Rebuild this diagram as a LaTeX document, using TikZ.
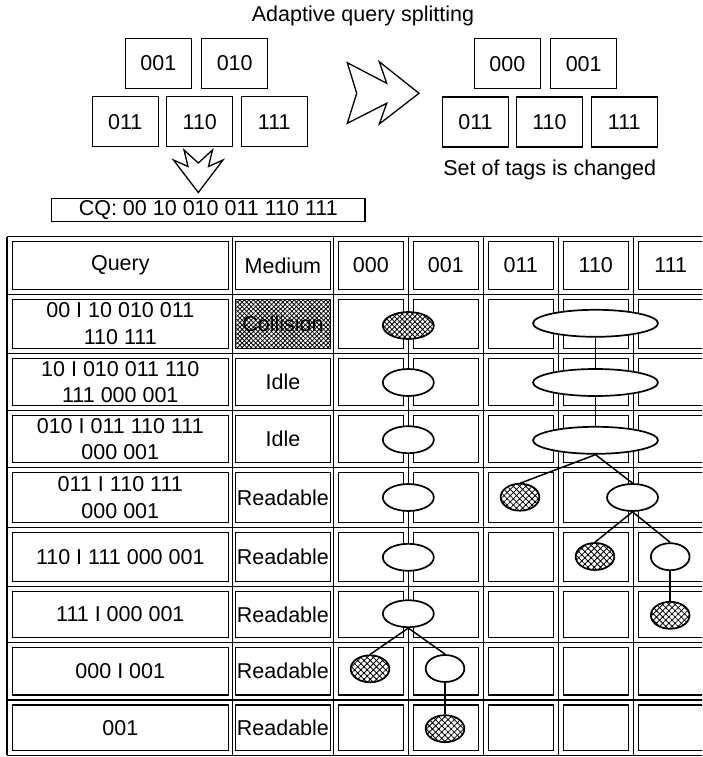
\documentclass[tikz,border=0pt]{standalone}
\usepackage{fontspec}
\setmainfont{Liberation Sans}
\usetikzlibrary{shapes.geometric,patterns.meta}
\begin{document}
\begin{tikzpicture}[x=1pt,y=-1pt,
  font=\fontsize{21.5}{26.5}\selectfont,
  box/.style={draw,line width=1.1pt,minimum width=66pt,minimum height=50pt,inner sep=0pt},
  cell/.style={draw,line width=1.1pt,inner sep=0pt,align=center},
  qcell/.style={cell,minimum width=215.5pt},
  mcell/.style={cell,minimum width=95.5pt},
  tcell/.style={cell,minimum width=65pt},
  gridline/.style={line width=1.1pt},
  oval/.style={ellipse,draw,fill=white,line width=1.7pt,inner sep=0pt,minimum height=27pt},
  sm/.style={oval,minimum width=38.7pt},
  md/.style={oval,minimum width=51pt},
  bg/.style={oval,minimum width=125pt},
  hatch/.style={preaction={fill=white},pattern={Hatch[angle=45,distance=#1,line width=0.8pt]}},
  hatch/.default=4.4pt,
  link/.style={line width=1.5pt},
  bigarrow/.style={draw,line width=1.3pt,line join=miter}
]
\useasboundingbox (0,0) rectangle (702,757);
\clip (0,0) rectangle (702,757);

% ---------- top part ----------
\node (title) at (363,16) {Adaptive query splitting};

\node[box] (a001) at (158.3,63.3) {001};
\node[box] (a010) at (234.7,63.3) {010};
\node[box] (a011) at (125.3,121.7) {011};
\node[box] (a110) at (199.8,121.7) {110};
\node[box] (a111) at (274.3,121.7) {111};

\node[box] (b000) at (507.3,63.8) {000};
\node[box] (b001) at (583.7,63.8) {001};
\node[box] (b011) at (475.5,122) {011};
\node[box] (b110) at (549.5,122) {110};
\node[box] (b111) at (624.3,122) {111};
\node (note) at (549.7,170) {Set of tags is changed};

\node[draw,line width=1.1pt,minimum width=313.3pt,minimum height=23.4pt,inner sep=0pt] (cq) at (208.3,210) {CQ: 00 10 010 011 110 111};

\draw[bigarrow] (347.3,62.7) -- (386.7,83.3) -- (379.3,61.7) -- (419,93.3) -- (379.3,124) -- (386.7,103.3) -- (347.3,123.3) -- (356.7,93.3) -- cycle;
\draw[bigarrow] (184,150) -- (188,166.5) -- (173.5,160) -- (198.3,192.5) -- (223,160) -- (208.5,166.5) -- (212.5,150) -- (198.3,163) -- cycle;

% ---------- table grid ----------
\foreach \x in {7,232.3,333.3,408.3,483.3,558.3,633.3,708.3}
  \draw[gridline] (\x,236.7) -- (\x,755.3);
\foreach \y in {236.7,294.3,353.3,410.7,467.3,527.7,586.7,642.3,700,755.3}
  \draw[gridline] (7,\y) -- (708.3,\y);

% header
\node[qcell,minimum height=47.6pt] (q0) at (120.3,265.5) {Query};
\node[mcell,minimum height=47.6pt] (m0) at (282.9,265.5) {Medium};
\node[tcell,minimum height=47.6pt] (t0-1) at (370.8,265.5) {000};
\node[tcell,minimum height=47.6pt] (t0-2) at (445.8,265.5) {001};
\node[tcell,minimum height=47.6pt] (t0-3) at (520.8,265.5) {011};
\node[tcell,minimum height=47.6pt] (t0-4) at (595.8,265.5) {110};
\node[tcell,minimum height=47.6pt,minimum width=80pt] (t0-5) at (678.3,265.5) {};
\node (t0-5text) at (670.8,265.5) {111};

% query column
\node[qcell,minimum height=49pt]   (q1) at (120.3,323.8) {00 I 10 010 011\\110 111};
\node[qcell,minimum height=47.4pt] (q2) at (120.3,382)   {10 I 010 011 110\\111 000 001};
\node[qcell,minimum height=46.6pt] (q3) at (120.3,439)   {010 I 011 110 111\\000 001};
\node[qcell,minimum height=50.4pt] (q4) at (120.3,497.5) {011 I 110 111\\000 001};
\node[qcell,minimum height=49pt]   (q5) at (120.3,557.2) {110 I 111 000 001};
\node[qcell,minimum height=45.6pt] (q6) at (120.3,614.5) {111 I 000 001};
\node[qcell,minimum height=47.7pt] (q7) at (120.3,671.15) {000 I 001};
\node[qcell,minimum height=45.3pt] (q8) at (120.3,727.65) {001};

% medium column
\node[mcell,hatch=3.2pt,minimum height=49pt] (m1) at (282.9,323.8) {Collision};
\node[mcell,minimum height=47.4pt] (m2) at (282.9,382)   {Idle};
\node[mcell,minimum height=46.6pt] (m3) at (282.9,439)   {Idle};
\node[mcell,minimum height=50.4pt] (m4) at (282.9,497.5) {Readable};
\node[mcell,minimum height=49pt]   (m5) at (282.9,557.2) {Readable};
\node[mcell,minimum height=45.6pt] (m6) at (282.9,614.5) {Readable};
\node[mcell,minimum height=47.7pt] (m7) at (282.9,671.15) {Readable};
\node[mcell,minimum height=45.3pt] (m8) at (282.9,727.65) {Readable};

% tag cells
\foreach \cy/\ch [count=\r] in {323.8/49,382/47.4,439/46.6,497.5/50.4,557.2/49,614.5/45.6,671.15/47.7,727.65/45.3}{
  \foreach \cx [count=\c] in {370.8,445.8,520.8,595.8}
    \node[tcell,minimum height=\ch pt] (t\r-\c) at (\cx,\cy) {};
  \node[tcell,minimum width=80pt,minimum height=\ch pt] (t\r-5) at (678.3,\cy) {};
}

% ---------- tree ----------
\node[md,hatch=3.6pt] (e1a) at (408.3,325.5) {};
\node[bg] (e1b) at (595.5,323.3) {};
\node[md] (e2a) at (408.3,382.5) {};
\node[bg] (e2b) at (595.5,382.5) {};
\node[md] (e3a) at (408.3,439.7) {};
\node[bg] (e3b) at (595.5,440.3) {};
\node[md] (e4a) at (408.3,497.5) {};
\node[sm,hatch] (e4b) at (520,497.2) {};
\node[md] (e4c) at (632.5,497.5) {};
\node[md] (e5a) at (408.3,557.3) {};
\node[sm,hatch] (e5b) at (595,556.5) {};
\node[sm] (e5c) at (670.2,556.7) {};
\node[md] (e6a) at (408.3,613.7) {};
\node[sm,hatch] (e6b) at (670.2,615.3) {};
\node[sm,hatch] (e7a) at (370,668.8) {};
\node[sm] (e7b) at (445,668.5) {};
\node[sm,hatch] (e8a) at (445,728.7) {};

\draw[link] (e1a.south) -- (e2a.north);
\draw[link] (e2a.south) -- (e3a.north);
\draw[link] (e3a.south) -- (e4a.north);
\draw[link] (e4a.south) -- (e5a.north);
\draw[link] (e5a.south) -- (e6a.north);
\draw[link] (e1b.south) -- (e2b.north);
\draw[link] (e2b.south) -- (e3b.north);
\draw[link] (e3b.south) -- (e4b.north);
\draw[link] (e3b.south) -- (e4c.north);
\draw[link] (e4c.south) -- (e5b.north);
\draw[link] (e4c.south) -- (e5c.north);
\draw[link] (e5c.south) -- (e6b.north);
\draw[link] (e6a.south) -- (e7a.north);
\draw[link] (e6a.south) -- (e7b.north);
\draw[link] (e7b.south) -- (e8a.north);
\end{tikzpicture}
\end{document}
